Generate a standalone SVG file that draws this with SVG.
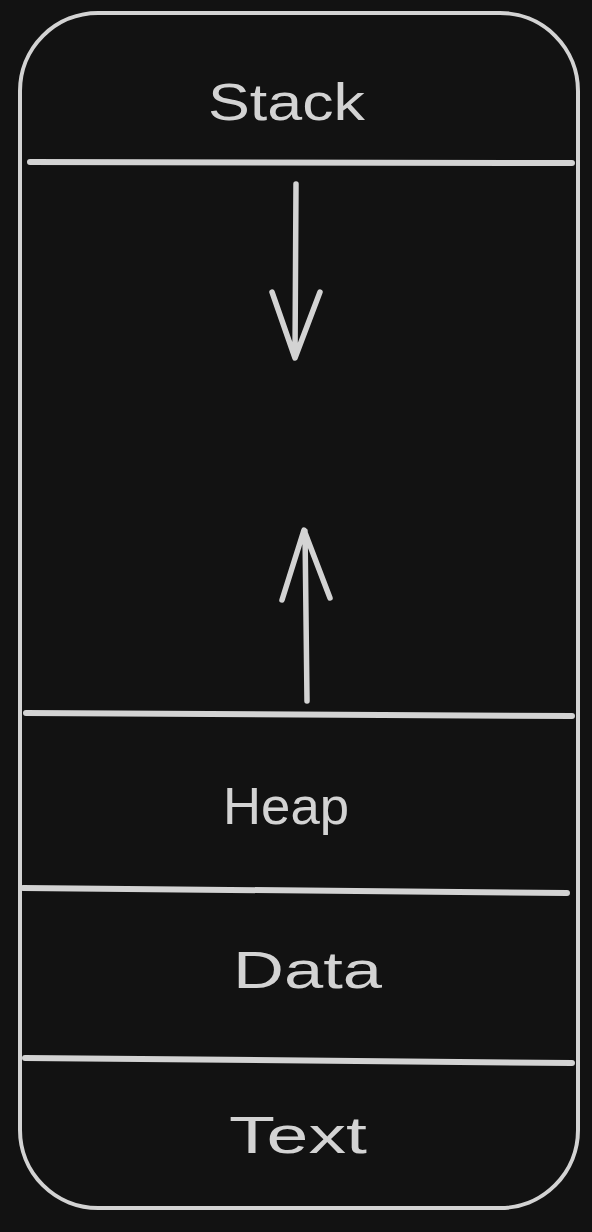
<svg xmlns="http://www.w3.org/2000/svg" width="592" height="1232" viewBox="0 0 592 1232">
<style>
.ln{stroke:#d3d3d3;fill:none;stroke-linecap:round;stroke-linejoin:round}
.lbl{fill:#d3d3d3;font-family:"Liberation Sans","DejaVu Sans",sans-serif;font-size:52px;text-anchor:start}
</style>
<rect width="592" height="1232" fill="#121212"/>
<g id="memory-block">
<rect class="ln" x="20" y="13" width="558" height="1195" rx="78" ry="78" stroke-width="4"/>
</g>
<g id="stack">
<text class="lbl" x="208" y="120" textLength="157" lengthAdjust="spacingAndGlyphs">Stack</text>
<line class="ln" x1="30" y1="162" x2="572" y2="163" stroke-width="6"/>
</g>
<g id="heap">
<line class="ln" x1="26" y1="713" x2="572" y2="716" stroke-width="6"/>
<text class="lbl" x="223" y="824" textLength="126" lengthAdjust="spacingAndGlyphs">Heap</text>
</g>
<g id="data">
<line class="ln" x1="23" y1="888" x2="567" y2="893" stroke-width="6"/>
<text class="lbl" x="233" y="988" textLength="149" lengthAdjust="spacingAndGlyphs">Data</text>
</g>
<g id="text">
<line class="ln" x1="25" y1="1058" x2="572" y2="1063" stroke-width="6"/>
<text class="lbl" x="229" y="1153" textLength="138" lengthAdjust="spacingAndGlyphs">Text</text>
</g>
<g id="connectors">
<path class="ln" stroke-width="5.5" d="M296 184 L295 357 M272 292 L295 358 L320 292"/>
<path class="ln" stroke-width="5.5" d="M307 701 L305 531 M282 600 L304 530 L330 598"/>
</g>
</svg>
